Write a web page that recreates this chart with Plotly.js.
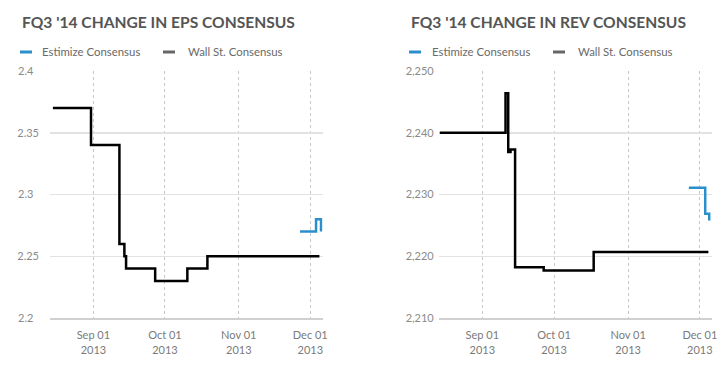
<!DOCTYPE html>
<html>
<head>
<meta charset="utf-8">
<script src="https://cdn.plot.ly/plotly-3.0.1.min.js"></script>
<style>html,body{margin:0;padding:0;background:#fff;}#chart{width:724px;height:369px;}</style>
</head>
<body>
<div id="chart"></div>
<script>
// EPS consensus (left chart)
const epsWallDates = ["2013-08-15","2013-08-31","2013-09-11 22:00","2013-09-14 00:00","2013-09-14 17:00","2013-09-26 22:00","2013-10-10 10:00","2013-10-18 20:00","2013-12-04 20:00"];
const epsWallValues = [2.37, 2.34, 2.26, 2.25, 2.24, 2.23, 2.24, 2.25, 2.25];
const epsEstDates = ["2013-11-26 16:00","2013-12-03 10:00","2013-12-05 12:00"];
const epsEstValues = [2.27, 2.28, 2.27];

// Revenue consensus (right chart)
const revWallDates = ["2013-08-14 05:00","2013-09-10 17:00","2013-09-11 20:00","2013-09-12 19:00","2013-09-14 17:00","2013-09-26 16:00","2013-10-17 14:00","2013-12-04 14:00"];
const revWallValues = [2240, 2246.4, 2236.9, 2237.3, 2218.2, 2217.7, 2220.7, 2220.7];
const revEstDates = ["2013-11-26 10:00","2013-12-03 06:00","2013-12-04 22:00"];
const revEstValues = [2231.1, 2226.9, 2225.8];

const titles = ["FQ3 '14 CHANGE IN EPS CONSENSUS", "FQ3 '14 CHANGE IN REV CONSENSUS"];
const legendNames = ["Estimize Consensus", "Wall St. Consensus"];
const xTickVals = ["2013-09-01","2013-10-01","2013-11-01","2013-12-01"];
const xTickText = ["Sep 01<br>2013","Oct 01<br>2013","Nov 01<br>2013","Dec 01<br>2013"];
const epsTickVals = [2.2, 2.25, 2.3, 2.35, 2.4];
const epsTickText = ["2.2\u00a0\u00a0", "2.25", "2.3\u00a0\u00a0", "2.35", "2.4\u00a0\u00a0"];
const revTickVals = [2210, 2220, 2230, 2240, 2250];
const revTickText = ["2,210", "2,220", "2,230", "2,240", "2,250"];

const W = 724, H = 369;
const BLUE = "#2a8fcb", BLACK = "#000000", LEGGRAY = "#666666";
const FONT = "Lato, 'Open Sans', sans-serif";

const traces = [
  {x: epsWallDates, y: epsWallValues, xaxis: "x", yaxis: "y", mode: "lines", line: {shape: "hv", color: BLACK, width: 2.5}, name: legendNames[1], showlegend: false, hoverinfo: "skip"},
  {x: epsEstDates, y: epsEstValues, xaxis: "x", yaxis: "y", mode: "lines", line: {shape: "hv", color: BLUE, width: 2.5}, name: legendNames[0], showlegend: false, hoverinfo: "skip"},
  {x: revWallDates, y: revWallValues, xaxis: "x2", yaxis: "y2", mode: "lines", line: {shape: "hv", color: BLACK, width: 2.5}, name: legendNames[1], showlegend: false, hoverinfo: "skip"},
  {x: revEstDates, y: revEstValues, xaxis: "x2", yaxis: "y2", mode: "lines", line: {shape: "hv", color: BLUE, width: 2.5}, name: legendNames[0], showlegend: false, hoverinfo: "skip"}
];

const yDom = [(H - 318) / H, (H - 71) / H];
function xAxis(dom, rng) {
  return {
    domain: dom, type: "date", range: rng,
    tickmode: "array", tickvals: xTickVals, ticktext: xTickText,
    showgrid: true, gridcolor: "#c8c8c8", griddash: "dot", gridwidth: 1,
    zeroline: false, showline: true, linecolor: "#d0d0d0", linewidth: 2,
    ticks: "", ticklabelstandoff: 6,
    tickfont: {family: FONT, size: 11, color: "#7a7a7a"}, fixedrange: true
  };
}
function yAxis(anchor, rng, vals, text, standoff) {
  return {
    domain: yDom, anchor: anchor, range: rng,
    tickmode: "array", tickvals: vals, ticktext: text,
    showgrid: true, gridcolor: "#e2e2e2", gridwidth: 1.5,
    zeroline: false, showline: false, ticks: "", ticklabelstandoff: standoff,
    tickfont: {family: FONT, size: 11, color: "#8a8a8a"}, fixedrange: true
  };
}

const px = v => v / W, py = v => (H - v) / H;
const annotations = [];
const shapes = [];
const panels = [
  {tx: 20, blue: [20, 32], blueText: 40, gray: [163, 175], grayText: 186},
  {tx: 409, blue: [409, 421], blueText: 430, gray: [553, 565], grayText: 576}
];
panels.forEach((p, i) => {
  annotations.push({xref: "paper", yref: "paper", x: px(p.tx), y: py(22), xanchor: "left", yanchor: "middle", showarrow: false,
    text: "<b>" + titles[i] + "</b>", font: {family: FONT, size: 15.6, color: "#555555"}});
  annotations.push({xref: "paper", yref: "paper", x: px(p.blueText), y: py(52), xanchor: "left", yanchor: "middle", showarrow: false,
    text: legendNames[0], font: {family: FONT, size: 11.4, color: "#6a6a6a"}});
  annotations.push({xref: "paper", yref: "paper", x: px(p.grayText), y: py(52), xanchor: "left", yanchor: "middle", showarrow: false,
    text: legendNames[1], font: {family: FONT, size: 11.4, color: "#6a6a6a"}});
  shapes.push({type: "line", xref: "paper", yref: "paper", x0: px(p.blue[0]), x1: px(p.blue[1]), y0: py(52), y1: py(52), line: {color: BLUE, width: 3}});
  shapes.push({type: "line", xref: "paper", yref: "paper", x0: px(p.gray[0]), x1: px(p.gray[1]), y0: py(52), y1: py(52), line: {color: LEGGRAY, width: 3}});
});

const layout = {
  width: W, height: H, margin: {l: 0, r: 0, t: 0, b: 0},
  paper_bgcolor: "#ffffff", plot_bgcolor: "#ffffff",
  showlegend: false,
  xaxis: xAxis([50 / W, 322.7 / W], ["2013-08-13 19:00", "2013-12-06 05:00"]),
  yaxis: yAxis("x", [2.2, 2.4], epsTickVals, epsTickText, 10),
  xaxis2: xAxis([438.7 / W, 712 / W], ["2013-08-13 18:00", "2013-12-06 02:00"]),
  yaxis2: yAxis("x2", [2210, 2250], revTickVals, revTickText, 4),
  annotations: annotations, shapes: shapes
};

Plotly.newPlot("chart", traces, layout, {staticPlot: true, displayModeBar: false});
</script>
</body>
</html>
